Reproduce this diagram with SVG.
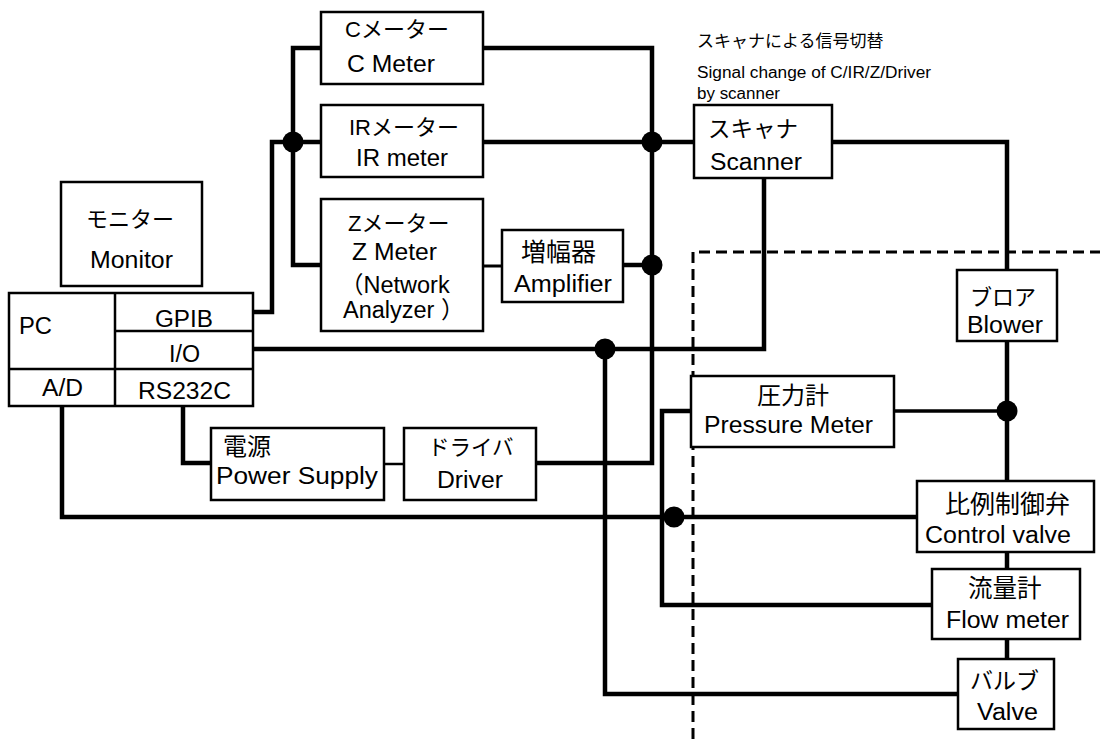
<svg xmlns="http://www.w3.org/2000/svg" width="1100" height="739" viewBox="0 0 1100 739">
<style>
.box{fill:#fff;stroke:#000;stroke-width:2.5}
.w{fill:none;stroke:#000;stroke-width:4.5;stroke-linejoin:miter;stroke-linecap:butt}
.t{font-family:"Liberation Sans","Noto Sans CJK JP",sans-serif;font-size:23.5px;fill:#000}
.j{font-family:"Noto Sans CJK JP","Liberation Sans",sans-serif;fill:#000}
.s{font-family:"Liberation Sans","Noto Sans CJK JP",sans-serif;font-size:16px;fill:#000}
.dot{fill:#000}
</style>
<rect width="1100" height="739" fill="#fff"/>
<path d="M693,739 V252 H1100" fill="none" stroke="#000" stroke-width="3" stroke-dasharray="11 6"/>
<g id="connectors">
<path class="w" d="M253,312 H272 V142 H321"/>
<path class="w" d="M321,48 H293 V265 H321"/>
<path class="w" d="M483,48 H652 V463 H536"/>
<path class="w" d="M483,142 H694"/>
<path class="w" d="M623,265 H652"/>
<path class="w" d="M483,266 H502" style="stroke-width:3"/>
<path class="w" d="M384,464 H404" style="stroke-width:2.5"/>
<path class="w" d="M832,142 H1007 V270"/>
<path class="w" d="M1007,341 V481"/>
<path class="w" d="M764,178 V349 H253"/>
<path class="w" d="M605,349 V694 H958"/>
<path class="w" d="M62,406 V517 H917"/>
<path class="w" d="M183,406 V463 H211"/>
<path class="w" d="M894,411 H1007" style="stroke-width:3.5"/>
<path class="w" d="M691,411 H662 V605 H932"/>
<path class="w" d="M1007,552 V569"/>
<path class="w" d="M1007,639 V659"/>
<circle class="dot" cx="293" cy="142" r="10.5"/>
<circle class="dot" cx="652" cy="142" r="10.5"/>
<circle class="dot" cx="652" cy="265" r="10.5"/>
<circle class="dot" cx="605" cy="349" r="10.5"/>
<circle class="dot" cx="674" cy="517" r="10.5"/>
<circle class="dot" cx="1007" cy="411" r="10.5"/>
</g>
<g id="cmeter">
<rect class="box" x="321" y="12" width="162" height="72"/>
<text class="t" x="345" y="37" style="font-size:22px">Cメーター</text>
<text class="t" x="347" y="72" textLength="88" lengthAdjust="spacingAndGlyphs">C Meter</text>
</g>
<g id="irmeter">
<rect class="box" x="321" y="105" width="162" height="72"/>
<text class="t" x="349" y="135" style="font-size:22px">IRメーター</text>
<text class="t" x="356" y="166" textLength="92" lengthAdjust="spacingAndGlyphs">IR meter</text>
</g>
<g id="zmeter">
<rect class="box" x="321" y="199" width="162" height="132"/>
<text class="t" x="348" y="231" style="font-size:22px">Zメーター</text>
<text class="t" x="352" y="260" textLength="85" lengthAdjust="spacingAndGlyphs">Z Meter</text>
<text class="t" x="340" y="293">（Network</text>
<text class="t" x="343" y="318">Analyzer ）</text>
</g>
<g id="monitor">
<rect class="box" x="61" y="182" width="141" height="104"/>
<text class="j" x="86" y="227" style="font-size:22px">モニター</text>
<text class="t" x="90" y="268" textLength="83" lengthAdjust="spacingAndGlyphs">Monitor</text>
</g>
<g id="pc">
<rect class="box" x="9" y="293" width="244" height="113"/>
<path d="M115,293 V406 M115,331 H253 M9,369 H253" stroke="#000" stroke-width="2.5" fill="none"/>
<text class="t" x="19" y="334" textLength="33" lengthAdjust="spacingAndGlyphs">PC</text>
<text class="t" x="155" y="327" textLength="58" lengthAdjust="spacingAndGlyphs">GPIB</text>
<text class="t" x="169" y="362" textLength="31" lengthAdjust="spacingAndGlyphs">I/O</text>
<text class="t" x="42" y="396" textLength="41" lengthAdjust="spacingAndGlyphs">A/D</text>
<text class="t" x="138" y="399" textLength="93" lengthAdjust="spacingAndGlyphs">RS232C</text>
</g>
<g id="power">
<rect class="box" x="211" y="428" width="173" height="72"/>
<text class="j" x="223" y="455" style="font-size:24px">電源</text>
<text class="t" x="216" y="484" textLength="162" lengthAdjust="spacingAndGlyphs">Power Supply</text>
</g>
<g id="driver">
<rect class="box" x="404" y="428" width="132" height="72"/>
<text class="j" x="428" y="455" style="font-size:21.5px">ドライバ</text>
<text class="t" x="437" y="488" textLength="66" lengthAdjust="spacingAndGlyphs">Driver</text>
</g>
<g id="amplifier">
<rect class="box" x="502" y="230" width="121" height="72"/>
<text class="j" x="521" y="261" style="font-size:25px">増幅器</text>
<text class="t" x="514" y="292" textLength="98" lengthAdjust="spacingAndGlyphs">Amplifier</text>
</g>
<g id="scanner">
<rect class="box" x="694" y="105" width="138" height="73"/>
<text class="j" x="708" y="137" style="font-size:22.5px">スキャナ</text>
<text class="t" x="710" y="170" textLength="92" lengthAdjust="spacingAndGlyphs">Scanner</text>
</g>
<g id="note">
<text class="j" x="697" y="47" style="font-size:17px">スキャナによる信号切替</text>
<text class="s" x="697" y="78" textLength="234" lengthAdjust="spacingAndGlyphs">Signal change of C/IR/Z/Driver</text>
<text class="s" x="697" y="99" textLength="83" lengthAdjust="spacingAndGlyphs">by scanner</text>
</g>
<g id="blower">
<rect class="box" x="957" y="270" width="100" height="71"/>
<text class="j" x="970" y="305" style="font-size:22px">ブロア</text>
<text class="t" x="967" y="333" textLength="76" lengthAdjust="spacingAndGlyphs">Blower</text>
</g>
<g id="pressure">
<rect class="box" x="691" y="376" width="203" height="71"/>
<text class="j" x="757" y="404" style="font-size:24px">圧力計</text>
<text class="t" x="704" y="433" textLength="169" lengthAdjust="spacingAndGlyphs">Pressure Meter</text>
</g>
<g id="controlvalve">
<rect class="box" x="917" y="481" width="177" height="71"/>
<text class="j" x="945" y="513" style="font-size:25px">比例制御弁</text>
<text class="t" x="925" y="543" textLength="146" lengthAdjust="spacingAndGlyphs">Control valve</text>
</g>
<g id="flowmeter">
<rect class="box" x="932" y="569" width="148" height="70"/>
<text class="j" x="968" y="597" style="font-size:24.5px">流量計</text>
<text class="t" x="946" y="628" textLength="123" lengthAdjust="spacingAndGlyphs">Flow meter</text>
</g>
<g id="valve">
<rect class="box" x="958" y="659" width="96" height="70"/>
<text class="j" x="970" y="689" style="font-size:23px">バルブ</text>
<text class="t" x="977" y="720" textLength="61" lengthAdjust="spacingAndGlyphs">Valve</text>
</g>
</svg>
